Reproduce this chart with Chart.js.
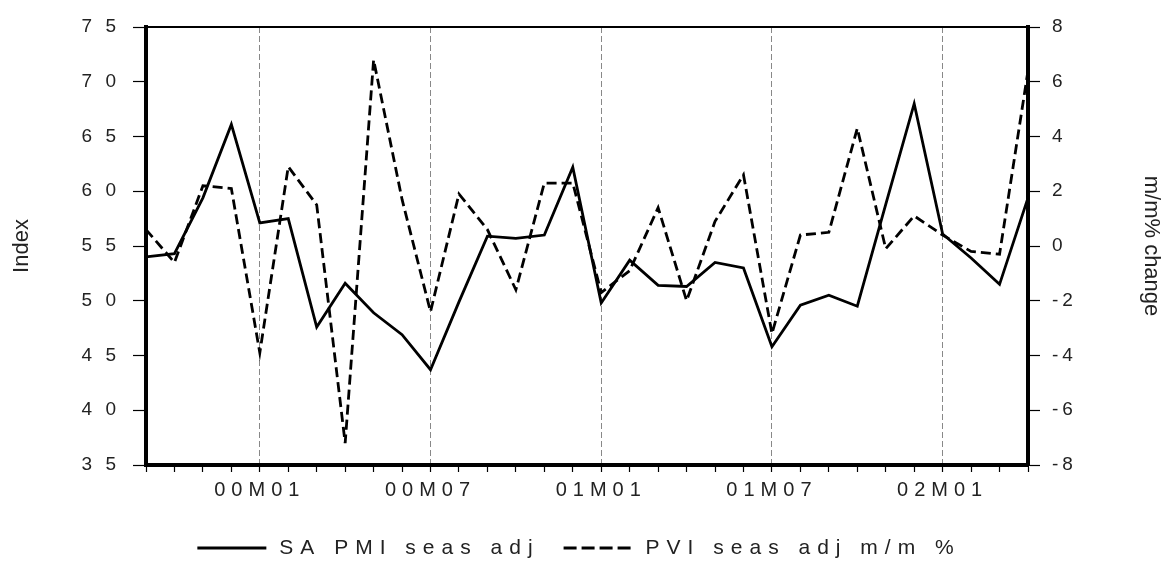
<!doctype html>
<html lang="en">
  <head>
    <meta charset="utf-8">
    <title>SA PMI vs PVI</title>
    <script src="https://cdn.jsdelivr.net/npm/chart.js@4.4.1/dist/chart.umd.min.js"></script>
    <style>
      body { margin: 0; background: #fff; }
      #wrap { width: 1168px; height: 563px; }
    </style>
  </head>
  <body>
    <div id="wrap"><canvas id="grafica" width="1168" height="563"></canvas></div>

  <script>

    // months 99M09 .. 02M04
    let meses = ["99M09","99M10","99M11","99M12",
      "00M01","00M02","00M03","00M04","00M05","00M06","00M07","00M08","00M09","00M10","00M11","00M12",
      "01M01","01M02","01M03","01M04","01M05","01M06","01M07","01M08","01M09","01M10","01M11","01M12",
      "02M01","02M02","02M03","02M04"];

    // SA PMI seas adj (left axis, index)
    let pmi = [54.0, 54.3, 59.4, 66.1, 57.1, 57.5, 47.6, 51.6, 48.9, 46.9, 43.7, 49.9,
               55.9, 55.7, 56.0, 62.2, 49.8, 53.7, 51.4, 51.3, 53.5, 53.0, 45.8, 49.6,
               50.5, 49.5, 58.8, 68.0, 56.1, 53.9, 51.5, 59.4];

    // PVI seas adj m/m % (right axis)
    let pvi = [0.6, -0.6, 2.2, 2.1, -3.9, 2.9, 1.5, -7.2, 6.8, 1.7, -2.4, 1.9,
               0.6, -1.6, 2.3, 2.3, -1.7, -0.9, 1.4, -2.0, 0.9, 2.6, -3.2, 0.4,
               0.5, 4.3, -0.1, 1.1, 0.4, -0.2, -0.3, 6.4];

    let etiquetasX = ["00M01","00M07","01M01","01M07","02M01"];

    const fuente = "'Liberation Sans', Arial, sans-serif";
    const esMarca = (i) => etiquetasX.includes(meses[i]);

    // letter spaced ticks, axis titles, legend and top frame line
    const estilo = {
      id: 'estilo',
      beforeUpdate(chart){ chart.ctx.letterSpacing = '4px'; },
      afterLayout(chart){
        // wider spacing on the month labels only
        const x = chart.scales.x;
        if (x && !x._espaciado) {
          const orig = x.drawLabels;
          x.drawLabels = function(area){
            this.ctx.letterSpacing = '6px';
            orig.call(this, area);
            this.ctx.letterSpacing = '4px';
          };
          x._espaciado = true;
        }
      },
      beforeDraw(chart){ chart.ctx.letterSpacing = '4px'; },
      afterDraw(chart){
        const ctx = chart.ctx;
        const a = chart.chartArea;

        // top frame
        ctx.save();
        ctx.letterSpacing = '0px';
        ctx.strokeStyle = '#000';
        ctx.lineWidth = 2;
        ctx.beginPath();
        ctx.moveTo(a.left - 1, a.top);
        ctx.lineTo(a.right + 2, a.top);
        ctx.stroke();
        ctx.restore();

        // axis titles
        const titulo = (txt, x, ang) => {
          ctx.save();
          ctx.letterSpacing = '0px';
          ctx.fillStyle = '#222';
          ctx.font = "22px " + fuente;
          ctx.textAlign = 'center';
          ctx.textBaseline = 'middle';
          ctx.translate(x, (a.top + a.bottom) / 2);
          ctx.rotate(ang);
          ctx.fillText(txt, 0, 0);
          ctx.restore();
        };
        titulo('Index', 22, -Math.PI/2);
        titulo('m/m% change', 1151, Math.PI/2);

        // legend
        ctx.save();
        ctx.font = "21px " + fuente;
        ctx.letterSpacing = '7px';
        ctx.fillStyle = '#222';
        ctx.textBaseline = 'middle';
        ctx.textAlign = 'left';
        const ds = chart.data.datasets;
        const largo = 69, sep = 13, entre = 24;
        const anchos = ds.map(d => ctx.measureText(d.label).width);
        let total = 0;
        anchos.forEach((w, i) => { total += largo + sep + w + (i ? entre : 0); });
        let x = 579 - total / 2;
        const y = 548;
        ds.forEach((d, i) => {
          ctx.strokeStyle = d.borderColor;
          ctx.lineWidth = 3;
          ctx.setLineDash(d.borderDash ? [13, 5] : []);
          ctx.beginPath();
          ctx.moveTo(x, y);
          ctx.lineTo(x + largo, y);
          ctx.stroke();
          ctx.setLineDash([]);
          x += largo + sep;
          ctx.fillText(d.label, x, y);
          x += anchos[i] + entre;
        });
        ctx.restore();
      }
    };

    let canvas = document.getElementById("grafica").getContext("2d");

    var chart = new Chart(canvas, {
      type: "line",
      data: {
        labels: meses,
        datasets: [
          {
            label: "SA PMI seas adj",
            data: pmi,
            yAxisID: "y",
            borderColor: "#000",
            backgroundColor: "#000",
            borderWidth: 2.8,
            pointRadius: 0,
            tension: 0
          },
          {
            label: "PVI seas adj m/m %",
            data: pvi,
            yAxisID: "y1",
            borderColor: "#000",
            backgroundColor: "#000",
            borderWidth: 2.8,
            borderDash: [10, 5],
            pointRadius: 0,
            tension: 0
          }
        ]
      },
      options: {
        responsive: false,
        animation: false,
        layout: { padding: { top: 27, bottom: 45 } },
        plugins: {
          tooltip: { enabled: false },
          legend: { display: false }
        },
        scales: {
          x: {
            afterFit: (s) => { s.height = 53; },
            grid: {
              color: (c) => esMarca(c.index) ? '#888' : 'rgba(0,0,0,0)',
              lineWidth: 1,
              tickColor: '#000',
              tickLength: 7,
              tickWidth: 1.2,
              tickBorderDash: []
            },
            border: { color: '#000', width: 4, dash: [6, 3] },
            ticks: {
              autoSkip: false,
              maxRotation: 0,
              padding: 6,
              color: '#222',
              font: { family: fuente, size: 20 },
              callback: function(v, i){ return esMarca(i) ? meses[i] : ''; }
            }
          },
          y: {
            position: 'left',
            min: 35,
            max: 75,
            afterFit: (s) => { s.width = 146; },
            grid: { drawOnChartArea: false, tickColor: '#000', tickLength: 13, tickWidth: 1.2 },
            border: { color: '#000', width: 4 },
            ticks: {
              stepSize: 5,
              padding: 13,
              color: '#222',
              font: { family: fuente, size: 19 },
              callback: (v) => String(v).split('').join(' ')
            }
          },
          y1: {
            position: 'right',
            min: -8,
            max: 8,
            afterFit: (s) => { s.width = 140; },
            grid: { drawOnChartArea: false, tickColor: '#000', tickLength: 12, tickWidth: 1.2 },
            border: { color: '#000', width: 4 },
            ticks: { stepSize: 2, padding: 12, color: '#222', font: { family: fuente, size: 19 } }
          }
        }
      },
      plugins: [estilo]
    });

  </script>
  </body>
</html>
